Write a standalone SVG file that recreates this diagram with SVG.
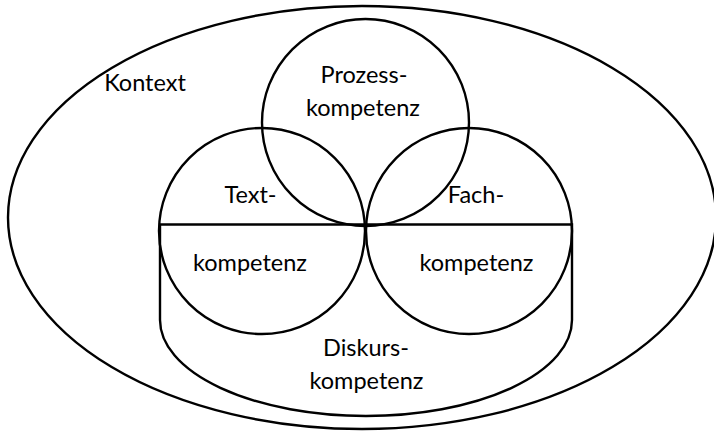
<svg xmlns="http://www.w3.org/2000/svg" width="714" height="432" viewBox="0 0 714 432">
<style>
.s{fill:none;stroke:#000;stroke-width:2.4}
text{font-family:Lato,"Open Sans","Liberation Sans",sans-serif;font-size:23.5px;fill:#000;text-anchor:middle}
</style>
<rect width="714" height="432" fill="#fff"/>
<g id="kontext">
<ellipse class="s" cx="362" cy="217.5" rx="354" ry="211.5"/>
<text x="145" y="91">Kontext</text>
</g>
<g id="diskurs">
<path class="s" d="M160,224.5 H572 V320 A206,96 0 0 1 160,320 Z"/>
<text x="366" y="356">Diskurs-</text>
<text x="366.5" y="389">kompetenz</text>
</g>
<g id="text">
<circle class="s" cx="262" cy="231" r="103"/>
<text x="250.5" y="203">Text-</text>
<text x="250" y="271">kompetenz</text>
</g>
<g id="fach">
<circle class="s" cx="469" cy="231" r="103"/>
<text x="476" y="203">Fach-</text>
<text x="476.5" y="271">kompetenz</text>
</g>
<g id="prozess">
<circle class="s" cx="365.5" cy="122.5" r="103.5"/>
<text x="364" y="83">Prozess-</text>
<text x="363" y="116">kompetenz</text>
</g>
<g id="connectors"></g>
</svg>
